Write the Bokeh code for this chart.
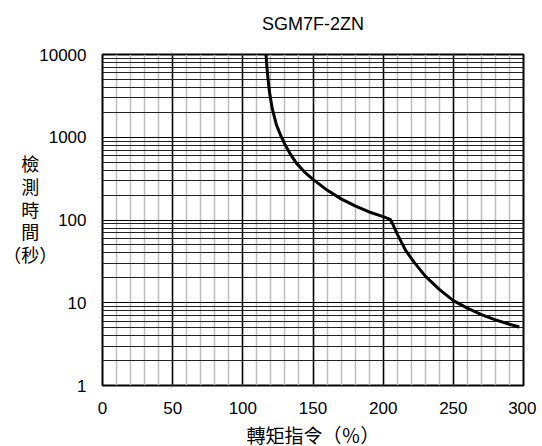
from bokeh.plotting import figure
from bokeh.models import FixedTicker, PrintfTickFormatter, Range1d
from bokeh.embed import file_html
from bokeh.resources import INLINE

title_text = "SGM7F-2ZN"
x_label = "轉矩指令（％）"
y_label_lines = ["檢", "測", "時", "間", "（秒）"]

x_ticks = [0, 50, 100, 150, 200, 250, 300]
x_minor = [v for v in range(0, 301, 10)]
y_ticks = [1, 10, 100, 1000, 10000]
y_minor = [m * d for d in [1, 10, 100, 1000] for m in range(2, 10)]

torque = [116.5, 117.5, 119, 121, 124, 127, 130, 134, 138, 144, 150, 160, 170, 180, 190, 200, 205,
          207, 210, 213, 216, 222, 230, 240, 250, 260, 270, 280, 290, 297]
det_time = [10000, 6000, 3500, 2200, 1400, 1050, 820, 620, 490, 380, 310, 230, 180, 148, 125, 110, 102,
            88, 68, 54, 43, 31, 21, 14.5, 10.6, 8.6, 7.2, 6.2, 5.5, 5.1]

LATIN = "Liberation Sans"
CJK = "Noto Sans CJK TC"

p = figure(frame_width=421, frame_height=331, y_axis_type="log",
           x_range=Range1d(0, 300), y_range=Range1d(1, 10000),
           output_backend="svg", toolbar_location=None,
           min_border_left=100, min_border_right=13,
           min_border_top=54, min_border_bottom=56)

p.outline_line_color = "black"
p.outline_line_width = 2
p.background_fill_color = "white"
p.border_fill_color = "white"

# title (trailing blank line lifts it away from the frame)
p.title.text = title_text + "\n "
p.title.align = "center"
p.title.text_font = LATIN
p.title.text_font_size = "18px"
p.title.text_font_style = "normal"
p.title.text_color = "black"
p.title.text_line_height = 0.8

# grids
p.xgrid.ticker = FixedTicker(ticks=x_ticks, minor_ticks=x_minor)
p.xgrid.grid_line_color = "black"
p.xgrid.grid_line_width = 1.5
p.xgrid.minor_grid_line_color = "#bdbdbd"
p.xgrid.minor_grid_line_width = 1.5
p.ygrid.ticker = FixedTicker(ticks=y_ticks, minor_ticks=y_minor)
p.ygrid.grid_line_color = "black"
p.ygrid.grid_line_width = 1.2
p.ygrid.minor_grid_line_color = "#222222"
p.ygrid.minor_grid_line_width = 1
p.xgrid.level = "underlay"
p.ygrid.level = "underlay"

# axes
for ax in (p.xaxis[0], p.yaxis[0]):
    ax.axis_line_color = None
    ax.major_tick_line_color = None
    ax.minor_tick_line_color = None
    ax.major_label_text_font = LATIN
    ax.major_label_text_font_size = "17px"
    ax.major_label_text_color = "black"
    ax.axis_label_text_font = CJK
    ax.axis_label_text_font_size = "18px"
    ax.axis_label_text_font_style = "normal"
    ax.axis_label_text_color = "black"
p.xaxis.ticker = FixedTicker(ticks=x_ticks)
p.yaxis.ticker = FixedTicker(ticks=y_ticks)
p.yaxis.formatter = PrintfTickFormatter(format="%d")
p.xaxis.major_label_standoff = 10
p.yaxis.major_label_standoff = 10

p.xaxis.axis_label = x_label
p.xaxis.axis_label_standoff = 4
p.xaxis.axis_label_text_font_size = "19px"

# right-aligned stacked label: pad single characters with a full-width space so they sit centred
padded = [t if len(t) > 1 else t + "\u3000" for t in y_label_lines]
p.yaxis.axis_label = "\n".join(padded + [" "])
p.yaxis.axis_label_text_line_height = 0.88
try:
    p.yaxis[0].axis_label_orientation = "horizontal"
except Exception:
    pass
p.yaxis.axis_label_standoff = -21

p.line(torque, det_time, line_color="black", line_width=3)

open("out.html", "w").write(file_html(p, INLINE))
